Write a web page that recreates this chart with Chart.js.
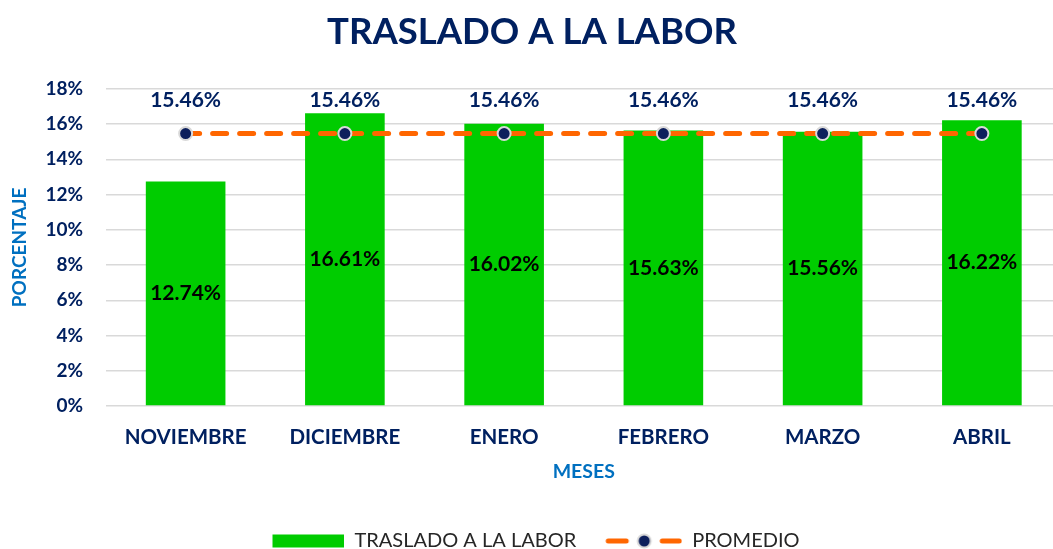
<!DOCTYPE html>
<html><head><meta charset="utf-8">
<script src="https://cdn.jsdelivr.net/npm/chart.js@4.4.1/dist/chart.umd.min.js"></script>
<style>html,body{margin:0;padding:0;overflow:hidden;background:#fff}#wrap{width:1070px;height:549px;position:relative}</style>
</head><body><div id="wrap"><canvas id="c"></canvas></div>
<script>
const months = ['NOVIEMBRE', 'DICIEMBRE', 'ENERO', 'FEBRERO', 'MARZO', 'ABRIL'];
const traslado = [12.74, 16.61, 16.02, 15.63, 15.56, 16.22];
const promedio = [15.46, 15.46, 15.46, 15.46, 15.46, 15.46];
const yTicks = [0, 2, 4, 6, 8, 10, 12, 14, 16, 18];
const seriesNames = ['TRASLADO A LA LABOR', 'PROMEDIO'];

const FONT = 'Lato';
const NAVY = '#002060';
const GREEN = '#00CC00';
const ORANGE = '#FF6600';
const MARK = '#0D1F5C';

function fmt(v){ return v.toFixed(2) + '%'; }

// legend images
const BW = 80, BH = 18;
function barIcon(){
  const c = document.createElement('canvas'); c.width = BW; c.height = BH;
  const g = c.getContext('2d'); g.fillStyle = GREEN; g.fillRect(8, 2.5, 72, 13);
  return c;
}
function lineIcon(){
  const c = document.createElement('canvas'); c.width = BW; c.height = BH;
  const g = c.getContext('2d');
  g.strokeStyle = ORANGE; g.lineWidth = 5; g.lineCap = 'round';
  g.beginPath(); g.moveTo(6, 9); g.lineTo(24, 9); g.stroke();
  g.beginPath(); g.moveTo(60, 9); g.lineTo(77, 9); g.stroke();
  g.beginPath(); g.arc(42, 9, 6.5, 0, Math.PI*2); g.fillStyle = MARK; g.fill();
  g.lineWidth = 2; g.strokeStyle = '#D9D9D9'; g.stroke();
  return c;
}
const icons = [barIcon(), lineIcon()];

const valuePlugin = {
  id: 'vals',
  afterDatasetsDraw(chart){
    const ctx = chart.ctx; ctx.save();
    ctx.textAlign = 'center'; ctx.textBaseline = 'middle';
    ctx.font = 'bold 21px ' + FONT;
    const bm = chart.getDatasetMeta(0);
    ctx.fillStyle = '#000';
    bm.data.forEach((el, i) => {
      const p = el.getProps(['x','y','base'], true);
      ctx.fillText(fmt(traslado[i]), p.x, (p.y + p.base)/2);
    });
    const lm = chart.getDatasetMeta(1);
    ctx.fillStyle = NAVY;
    lm.data.forEach((el, i) => {
      ctx.fillText(fmt(promedio[i]), el.x, el.y - 33);
    });
    ctx.restore();
  }
};

new Chart(document.getElementById('c'), {
  data: {
    labels: months,
    datasets: [
      { type: 'bar', label: seriesNames[0], data: traslado, backgroundColor: GREEN,
        barPercentage: 0.5, categoryPercentage: 1, order: 2 },
      { type: 'line', label: seriesNames[1], data: promedio, borderColor: ORANGE, borderWidth: 5,
        borderDash: [14, 13], borderCapStyle: 'round', pointRadius: 6.5, pointHoverRadius: 6.5,
        pointBackgroundColor: MARK, pointBorderColor: '#D9D9D9', pointBorderWidth: 2, order: 1 }
    ]
  },
  options: {
    responsive: true, maintainAspectRatio: false, animation: false,
    layout: { padding: { left: 0, right: 6, top: 0, bottom: -12 } },
    plugins: {
      tooltip: { enabled: false },
      title: { display: true, text: 'TRASLADO A LA LABOR', color: NAVY,
        font: { family: FONT, size: 36.5, weight: 'bold' }, padding: { top: 10, bottom: 35 } },
      legend: {
        position: 'bottom',
        labels: {
          usePointStyle: true, pointStyleWidth: BW, padding: 26,
          color: '#262626', font: { family: FONT, size: 20 },
          generateLabels(){
            return seriesNames.map((n, i) => ({ text: n, pointStyle: icons[i], datasetIndex: i,
              fillStyle: 'transparent', strokeStyle: 'transparent', lineWidth: 0, fontColor: '#262626' }));
          }
        }
      }
    },
    scales: {
      x: {
        afterFit(s){ s.height = 99; },
        grid: { display: false }, border: { display: false },
        ticks: { color: NAVY, font: { family: FONT, size: 20.5, weight: 'bold' }, padding: 11 },
        title: { display: true, text: 'MESES', color: '#0070C0',
          font: { family: FONT, size: 19.5, weight: 'bold' }, padding: { top: 13, bottom: 22 } }
      },
      y: {
        min: 0, max: 18,
        afterFit(s){ s.width = 106; },
        afterBuildTicks(s){ s.ticks = yTicks.map(v => ({ value: v })); },
        grid: { color: '#D9D9D9', lineWidth: 1.5, drawTicks: false }, border: { display: false },
        ticks: { color: NAVY, font: { family: FONT, size: 19, weight: 'bold' }, padding: 23,
          callback: v => v + '%' },
        title: { display: true, text: 'PORCENTAJE', color: '#0070C0',
          font: { family: FONT, size: 19, weight: 'bold' }, padding: { top: 8, bottom: 4 } }
      }
    }
  },
  plugins: [valuePlugin]
});
</script>
</body></html>
